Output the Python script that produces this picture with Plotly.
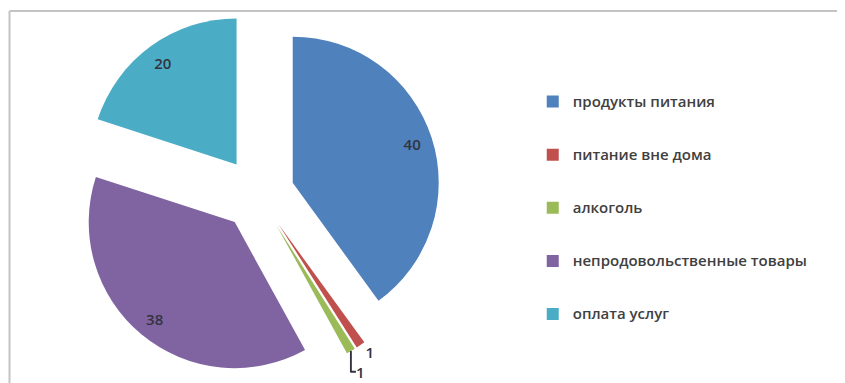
import plotly.graph_objects as go

categories = ["продукты питания", "питание вне дома", "алкоголь",
              "непродовольственные товары", "оплата услуг"]
values = [40, 1, 1, 38, 20]
colors = ["#4F81BD", "#C0504D", "#9BBB59", "#8064A2", "#4BACC6"]
text_positions = ["inside", "outside", "outside", "inside", "inside"]

W, H = 845, 383
OFF = 8  # page body margin compensation (px)

legend_labels = ["<br><span style='font-size:15px'>%s</span><br>" % c for c in categories]
domain = dict(x=[(75.5 - OFF) / W, (440.5 - OFF) / W],
              y=[1 - (376.5 - OFF) / H, 1 - (11.5 - OFF) / H])
pulls = [0.25] * len(values)
value_font = dict(family="Open Sans", size=15, color="#333340", weight=600)

fig = go.Figure()
# coloured slices (legend source)
fig.add_trace(go.Pie(
    labels=legend_labels,
    values=values,
    sort=False,
    direction="clockwise",
    rotation=0,
    pull=pulls,
    marker=dict(colors=colors, line=dict(width=0)),
    textinfo="none",
    domain=domain,
    hoverinfo="skip",
))
# transparent ring carrying the value labels near the rim
fig.add_trace(go.Pie(
    labels=legend_labels,
    values=values,
    sort=False,
    direction="clockwise",
    rotation=0,
    pull=pulls,
    hole=0.72,
    marker=dict(colors=["rgba(0,0,0,0)"] * len(values), line=dict(width=0)),
    textinfo="value",
    textposition=text_positions,
    insidetextorientation="horizontal",
    textfont=value_font,
    outsidetextfont=value_font,
    domain=domain,
    showlegend=False,
    hoverinfo="skip",
))

# chart-area frame (top and left edges visible in the crop)
bx = (9.5 - OFF) / W
by = 1 - (11 - OFF) / H
fig.add_shape(type="line", xref="paper", yref="paper",
              x0=bx, x1=1, y0=by, y1=by,
              line=dict(color="#C4C4C4", width=2), layer="above")
fig.add_shape(type="line", xref="paper", yref="paper",
              x0=bx, x1=bx, y0=0, y1=by,
              line=dict(color="#C4C4C4", width=2), layer="above")

fig.update_layout(
    width=W, height=H,
    margin=dict(l=0, r=0, t=0, b=0, autoexpand=False),
    paper_bgcolor="white",
    plot_bgcolor="white",
    showlegend=True,
    legend=dict(
        x=0.621, y=0.838, xanchor="left", yanchor="top",
        font=dict(family="Open Sans", size=12.85, color="#404040", weight=600),
        valign="middle",
        bgcolor="rgba(0,0,0,0)",
    ),
    font=dict(family="Open Sans"),
)

fig.write_html("out.html")
